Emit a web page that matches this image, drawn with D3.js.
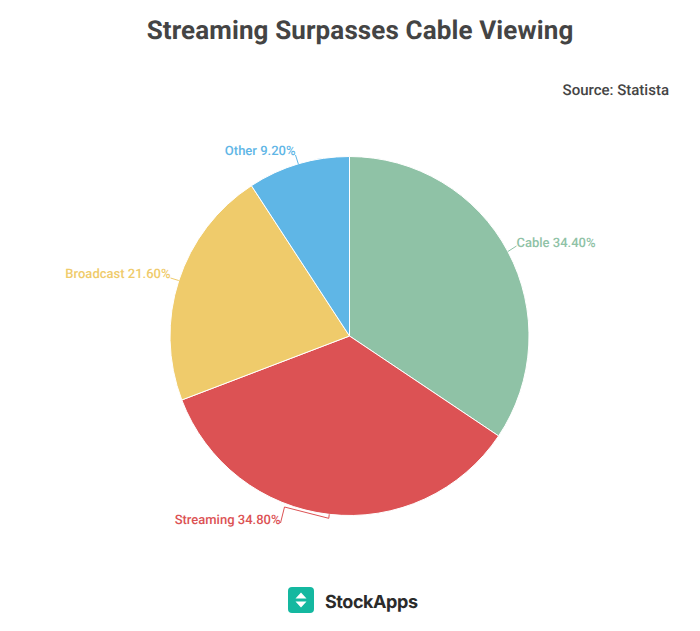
<!DOCTYPE html>
<html>
<head>
<meta charset="utf-8">
<script src="https://cdn.jsdelivr.net/npm/d3@7"></script>
<style>
html, body { margin: 0; padding: 0; background: #fff; }
text { font-family: Roboto, sans-serif; text-rendering: geometricPrecision; }
</style>
</head>
<body>
<script>
var categories = ["Cable", "Streaming", "Broadcast", "Other"];
var shares = [34.4, 34.8, 21.6, 9.2];
var colors = ["#8fc2a6", "#dc5254", "#efcb6b", "#5fb6e6"];

// where each label sits, relative to the pie centre
var labelAnchors = [[167, -90], [-69, 187], [-179, -58], [-54, -181]];
var labelNudge = [1, 1, 0, 0];
var labelSides = ["start", "end", "end", "end"];

var width = 700;
var height = 631;
var cx = 349.5;
var cy = 336;
var radius = 179.5;

var svg = d3.select("body").append("svg")
    .attr("width", width)
    .attr("height", height)
    .style("display", "block");

svg.append("text")
    .attr("x", 360)
    .attr("y", 39)
    .attr("text-anchor", "middle")
    .attr("font-size", 26)
    .attr("font-weight", 700)
    .attr("letter-spacing", 0.12)
    .attr("fill", "#444444")
    .text("Streaming Surpasses Cable Viewing");

svg.append("text")
    .attr("x", 669)
    .attr("y", 95)
    .attr("text-anchor", "end")
    .attr("font-size", 15)
    .attr("font-weight", 500)
    .attr("fill", "#444444")
    .text("Source: Statista");

var pie = d3.pie().sort(null)(shares);
var arc = d3.arc().innerRadius(0).outerRadius(radius);

var g = svg.append("g")
    .attr("transform", "translate(" + cx + "," + cy + ")");

g.selectAll("path.slice")
    .data(pie)
    .enter().append("path")
    .attr("class", "slice")
    .attr("d", arc)
    .attr("fill", (d, i) => colors[i])
    .attr("stroke", "#fff")
    .attr("stroke-width", 1);

function edge(d, r) {
    var a = (d.startAngle + d.endAngle) / 2;
    return [Math.sin(a) * r, -Math.cos(a) * r];
}

// connector from the slice edge, out a little, then to the label
g.selectAll("polyline.connector")
    .data(pie)
    .enter().append("polyline")
    .attr("class", "connector")
    .attr("fill", "none")
    .attr("stroke", (d, i) => colors[i])
    .attr("stroke-width", 1)
    .attr("points", function (d, i) {
        var a = labelAnchors[i];
        if (i === 1) {
            return [edge(d, radius), edge(d, radius + 4), [a[0] + 4, a[1] - 16], [a[0], a[1]]].join(" ");
        }
        return [edge(d, radius), [a[0], a[1]]].join(" ");
    });

g.selectAll("text.label")
    .data(pie)
    .enter().append("text")
    .attr("class", "label")
    .attr("x", (d, i) => labelAnchors[i][0])
    .attr("y", (d, i) => labelAnchors[i][1] + labelNudge[i])
    .attr("text-anchor", (d, i) => labelSides[i])
    .attr("font-size", 13)
    .attr("font-weight", 500)
    .attr("fill", (d, i) => colors[i])
    .text((d, i) => categories[i] + " " + shares[i].toFixed(2) + "%");

// logo
var logo = svg.append("g").attr("transform", "translate(288,587)");
logo.append("rect")
    .attr("width", 26)
    .attr("height", 26)
    .attr("rx", 4)
    .attr("fill", "#14b8a0");
logo.append("path")
    .attr("d", "M13 5.5L18.5 11.5H7.5Z M13 20.5L18.5 14.5H7.5Z")
    .attr("fill", "#fff");

svg.append("text")
    .attr("x", 325)
    .attr("y", 608)
    .attr("font-size", 18)
    .attr("font-weight", 700)
    .attr("fill", "#2b2b2b")
    .attr("textLength", 93)
    .style("font-family", "Inter, sans-serif")
    .text("StockApps");
</script>
</body>
</html>
